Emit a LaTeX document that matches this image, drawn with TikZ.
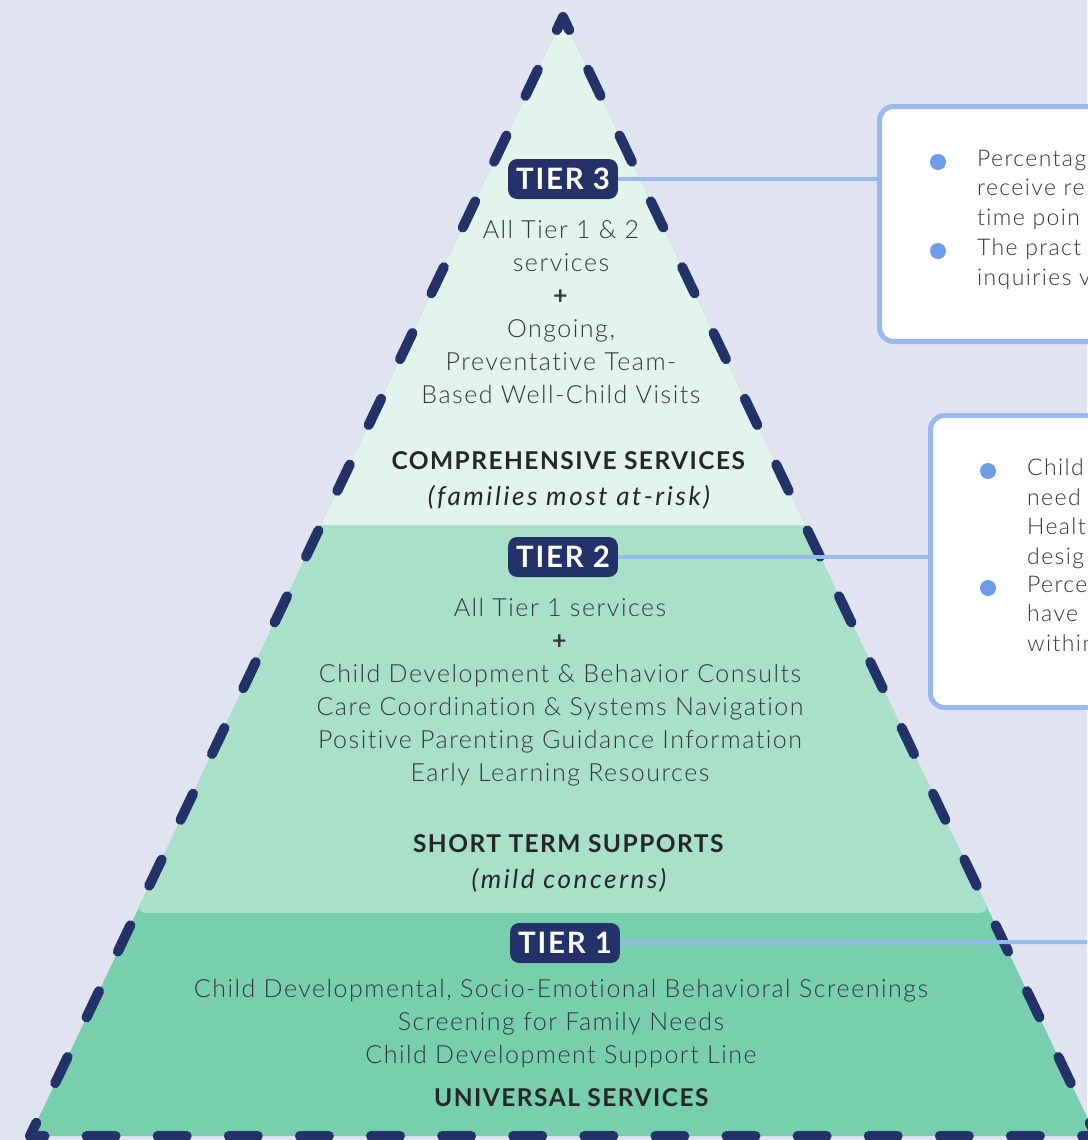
\documentclass[tikz,border=0pt]{standalone}
\usepackage{fontspec}
\setmainfont{Lato}[UprightFont=* Light, BoldFont=* Bold, ItalicFont=* Italic, LetterSpace=6, Ligatures=NoCommon]
\usetikzlibrary{positioning}
\definecolor{bgcol}{HTML}{E1E3F1}
\definecolor{navy}{HTML}{233268}
\definecolor{tierone}{HTML}{77CFAD}
\definecolor{tiertwo}{HTML}{A9E0CA}
\definecolor{tierthree}{HTML}{E3F4EC}
\definecolor{linkblue}{HTML}{9AB8EE}
\definecolor{dotblue}{HTML}{6F9CE8}
\definecolor{txt}{HTML}{363636}
\newcommand{\riskline}[1]{{\fontsize{26}{36}\selectfont\itshape\addfontfeature{LetterSpace=10}#1}}

\tikzset{
  badge/.style={fill=navy, text=white, rounded corners=9pt, inner xsep=8pt, inner ysep=0pt,
    minimum height=40pt, font=\bfseries\fontsize{29.5}{29.5}\selectfont},
  body/.style={text=txt, align=center, inner sep=0pt, font=\fontsize{25}{33}\selectfont},
  head/.style={text=black!85, align=center, inner sep=0pt, font=\fontsize{24.5}{36}\selectfont},
  boxtext/.style={text=txt, align=left, anchor=north west, inner sep=0pt, font=\fontsize{23}{29.5}\selectfont},
  infobox/.style={draw=linkblue, fill=white, line width=5pt, rounded corners=14pt, anchor=north west},
  link/.style={draw=linkblue, line width=4pt},
  dot/.style={fill=dotblue, circle, inner sep=0pt, minimum size=16pt},
  sidedash/.style={draw=navy, line width=10pt, line cap=round, dash pattern=on 29pt off 43.9pt, dash phase=14.5pt},
  basedash/.style={draw=navy, line width=10pt, line cap=round, dash pattern=on 29pt off 42.1pt, dash phase=14.5pt}
}

\begin{document}
\begin{tikzpicture}[x=1pt, y=-1pt]

    \fill[bgcol] (0,0) rectangle (1087,1140);
    \useasboundingbox (0,0) rectangle (1087,1140);

    \coordinate (apex) at (563,17);
    \coordinate (lcorner) at (30,1136);
    \coordinate (rcorner) at (1096,1136);

    \fill[tierone] (apex) -- (lcorner) -- (rcorner) -- cycle;
    \fill[tiertwo] (321,525) [rounded corners=10pt] -- (136,913) -- (990,913) [sharp corners] -- (805,525) -- cycle;
    \fill[tierthree] (apex) -- (321,525) -- (805,525) -- cycle;

    \draw[sidedash] (apex) -- (lcorner);
    \draw[sidedash] (apex) -- (rcorner);
    \draw[basedash] (lcorner) -- (rcorner);

    \node[infobox, minimum width=240pt, minimum height=235pt] (box1) at (877,104) {};
    \node[infobox, minimum width=240pt, minimum height=292pt] (box2) at (928,413) {};

    \node[badge] (t3) at (563,179) {TIER 3};
    \node[badge] (t2) at (563,557) {TIER 2};
    \node[badge] (t1) at (565,943) {TIER 1};
    \coordinate (t1end) at (1087,942);

    \draw[link] (t3.east) -- (t3.east -| box1.west);
    \draw[link] (t2.east) -- (t2.east -| box2.west);
    \draw[link] (t1.east) -- (t1end);

    \node[body] (t3list) at (561,312) {All Tier 1 \& 2\\services\\\textbf{+}\\Ongoing,\\Preventative Team-\\Based Well-Child Visits};
    \node[head] (t3head) at (569,480) {\textbf{COMPREHENSIVE SERVICES}\\\riskline{(families most at-risk)}};

    \node[body] (t2list) at (560,692) {All Tier 1 services\\\textbf{+}\\Child Development \& Behavior Consults\\Care Coordination \& Systems Navigation\\Positive Parenting Guidance Information\\Early Learning Resources};
    \node[head] (t2head) at (569,863) {\textbf{SHORT TERM SUPPORTS}\\\riskline{(mild concerns)}};

    \node[body] (t1list) at (561,1024) {Child Developmental, Socio-Emotional Behavioral Screenings\\Screening for Family Needs\\Child Development Support Line};
    \node[head] (t1head) at (572,1098) {\textbf{UNIVERSAL SERVICES}};

    \node[dot] (b1) at (938,162) {};
    \node[dot] (b2) at (938,251) {};
    \node[dot] (b3) at (988,471) {};
    \node[dot] (b4) at (988,588) {};

    \node[boxtext] (b1text) at (977,150) {Percentag\\receive re\\time poin};
    \node[boxtext] (b2text) at (977,239) {The pract\\inquiries v};
    \node[boxtext] (b3text) at (1027,459) {Child\\need\\Healt\\desig};
    \node[boxtext] (b4text) at (1027,576) {Perce\\have\\within};

\end{tikzpicture}
\end{document}
